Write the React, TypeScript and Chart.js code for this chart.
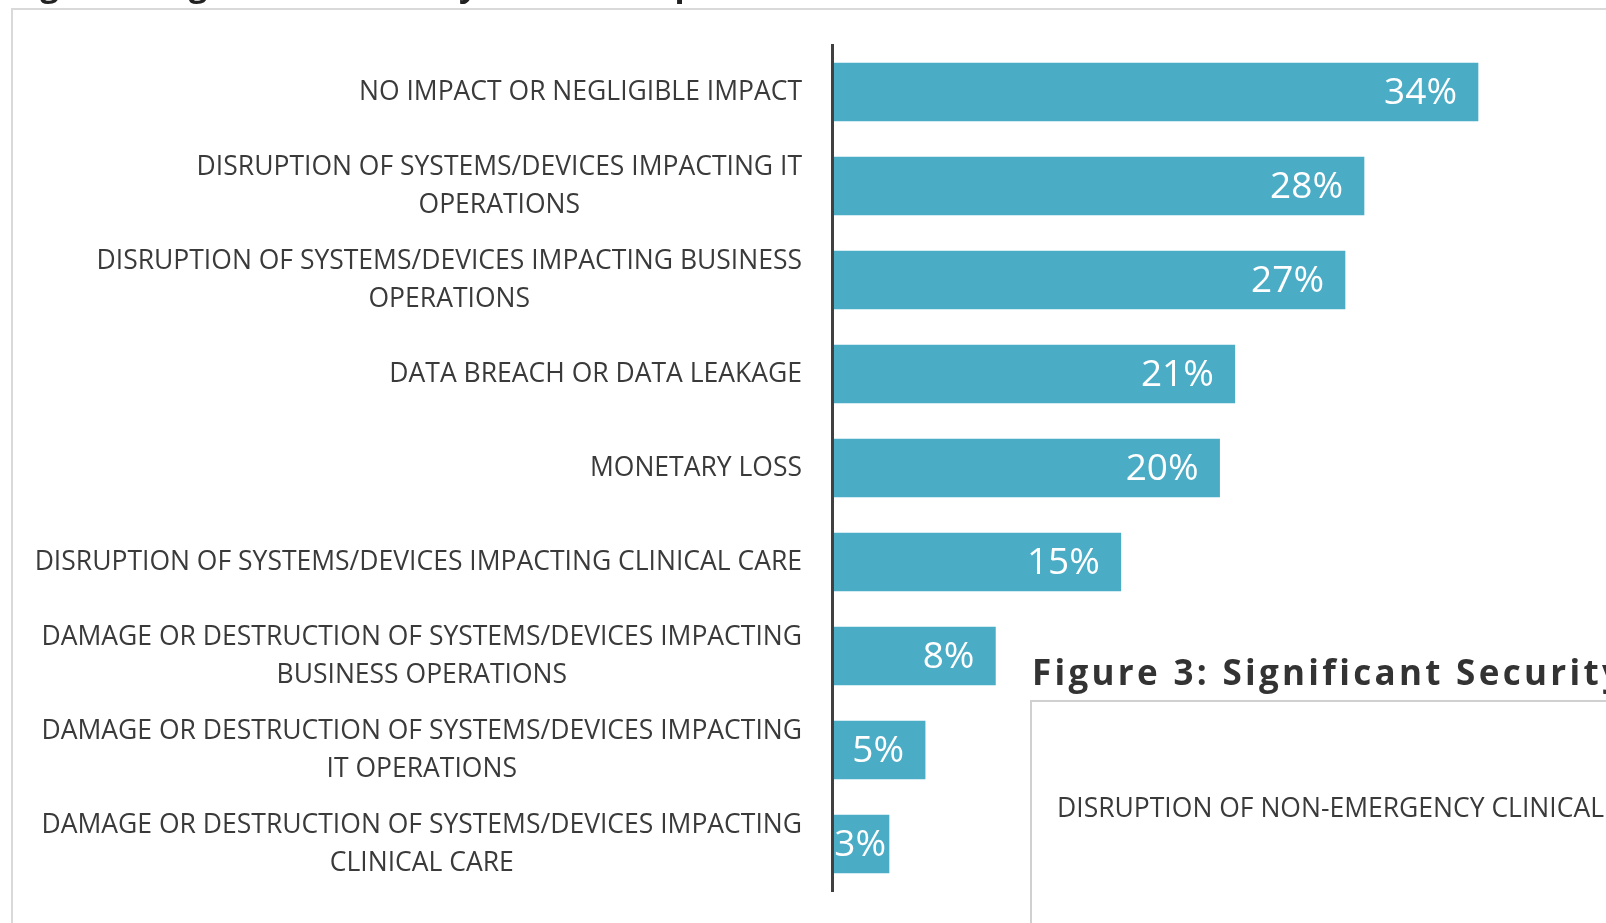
import React, { useEffect, useRef } from "react";
import { Chart, registerables } from "chart.js";

Chart.register(...registerables);

const categories: string[][] = [
  ["NO IMPACT OR NEGLIGIBLE IMPACT"],
  ["DISRUPTION OF SYSTEMS/DEVICES IMPACTING IT", "OPERATIONS"],
  ["DISRUPTION OF SYSTEMS/DEVICES IMPACTING BUSINESS", "OPERATIONS"],
  ["DATA BREACH OR DATA LEAKAGE"],
  ["MONETARY LOSS"],
  ["DISRUPTION OF SYSTEMS/DEVICES IMPACTING CLINICAL CARE"],
  ["DAMAGE OR DESTRUCTION OF SYSTEMS/DEVICES IMPACTING", "BUSINESS OPERATIONS"],
  ["DAMAGE OR DESTRUCTION OF SYSTEMS/DEVICES IMPACTING", "IT OPERATIONS"],
  ["DAMAGE OR DESTRUCTION OF SYSTEMS/DEVICES IMPACTING", "CLINICAL CARE"],
];
const values: number[] = [34, 28, 27, 21.2, 20.4, 15.2, 8.6, 4.9, 3];
const valueLabels: string[] = ["34%", "28%", "27%", "21%", "20%", "15%", "8%", "5%", "3%"];

const topTitle = "Figure 2: Significant Security Incident Impact";
const nextTitle = "Figure 3: Significant Security Incident Impact";
const nextCategory = "DISRUPTION OF NON-EMERGENCY CLINICAL CARE";

const BAR_COLOR = "#4BACC6";
const TEXT_COLOR = "#3a3a3a";
const LABEL_FONT = "26.5px 'Open Sans', sans-serif";
const VALUE_FONT = "37px 'Open Sans', sans-serif";
const TOP_TITLE_FONT = "bold 33px 'Open Sans', sans-serif";
const TITLE_FONT = "bold 35px 'Open Sans', sans-serif";

const pagePlugin = {
  id: "pageDecor",
  beforeDraw(chart: any) {
    const ctx = chart.ctx as CanvasRenderingContext2D;
    ctx.save();
    ctx.fillStyle = "#ffffff";
    ctx.fillRect(0, 0, chart.width, chart.height);
    ctx.font = TOP_TITLE_FONT;
    ctx.fillStyle = "#222222";
    ctx.textAlign = "left";
    ctx.textBaseline = "alphabetic";
    ctx.fillText(topTitle, 12, -4);
    ctx.strokeStyle = "#d9d9d9";
    ctx.lineWidth = 2;
    ctx.beginPath();
    ctx.moveTo(12, chart.height + 2);
    ctx.lineTo(12, 9);
    ctx.lineTo(chart.width + 2, 9);
    ctx.stroke();
    ctx.restore();
  },
  afterDraw(chart: any) {
    const ctx = chart.ctx as CanvasRenderingContext2D;
    ctx.save();
    ctx.font = TITLE_FONT;
    (ctx as any).letterSpacing = "3.3px";
    ctx.fillStyle = "#333333";
    ctx.textAlign = "left";
    ctx.textBaseline = "alphabetic";
    ctx.fillText(nextTitle, 1032, 685);
    (ctx as any).letterSpacing = "0px";
    ctx.strokeStyle = "#d0d0d0";
    ctx.lineWidth = 2;
    ctx.beginPath();
    ctx.moveTo(1031, chart.height + 2);
    ctx.lineTo(1031, 701);
    ctx.lineTo(chart.width + 2, 701);
    ctx.stroke();
    ctx.font = LABEL_FONT;
    ctx.fillStyle = TEXT_COLOR;
    ctx.textBaseline = "middle";
    ctx.fillText(nextCategory, 1057, 809);
    ctx.restore();
  },
};

const categoryLabelPlugin = {
  id: "categoryLabels",
  afterDraw(chart: any) {
    const ctx = chart.ctx as CanvasRenderingContext2D;
    const yScale = chart.scales.y;
    const rightEdge = 802;
    const lineH = 38;
    ctx.save();
    ctx.font = LABEL_FONT;
    ctx.fillStyle = TEXT_COLOR;
    ctx.textAlign = "center";
    ctx.textBaseline = "middle";
    categories.forEach((lines, i) => {
      const y = yScale.getPixelForValue(i);
      const maxW = Math.max(...lines.map((l) => ctx.measureText(l).width));
      const cx = rightEdge - maxW / 2;
      lines.forEach((l, j) => {
        ctx.fillText(l, cx, y + (j - (lines.length - 1) / 2) * lineH);
      });
    });
    ctx.restore();
  },
};

const valueLabelPlugin = {
  id: "valueLabels",
  afterDatasetsDraw(chart: any) {
    const ctx = chart.ctx as CanvasRenderingContext2D;
    const meta = chart.getDatasetMeta(0);
    const area = chart.chartArea;
    ctx.save();
    ctx.beginPath();
    ctx.rect(area.left, 0, chart.width - area.left, chart.height);
    ctx.clip();
    ctx.font = VALUE_FONT;
    ctx.fillStyle = "#ffffff";
    ctx.textAlign = "right";
    ctx.textBaseline = "middle";
    meta.data.forEach((el: any, i: number) => {
      const text = valueLabels[i];
      const w = ctx.measureText(text).width;
      const barW = el.x - el.base;
      const pad = w + 21 > barW ? 3 : 21;
      ctx.fillText(text, el.x - pad, el.y + 1);
    });
    ctx.restore();
  },
};

export default function App() {
  const ref = useRef<HTMLCanvasElement | null>(null);
  useEffect(() => {
    if (!ref.current) return;
    const chart = new Chart(ref.current, {
      type: "bar",
      data: {
        labels: categories,
        datasets: [
          {
            data: values,
            backgroundColor: BAR_COLOR,
            borderWidth: 0,
            barThickness: 58,
          },
        ],
      },
      options: {
        indexAxis: "y",
        responsive: false,
        animation: false,
        layout: { padding: { top: 45, bottom: 32, left: 0, right: 14 } },
        plugins: {
          legend: { display: false },
          tooltip: { enabled: false },
          title: { display: false },
        },
        scales: {
          x: {
            display: false,
            min: 0,
            max: 40,
          },
          y: {
            grid: { display: false },
            border: { display: true, color: "#404040", width: 3, z: 1 },
            ticks: { display: false },
            afterFit(scale: any) {
              scale.width = 832;
            },
          },
        },
      },
      plugins: [pagePlugin, categoryLabelPlugin, valueLabelPlugin],
    });
    return () => chart.destroy();
  }, []);
  return (
    <div style={{ position: "fixed", left: 0, top: 0, width: 1606, height: 923, background: "#fff" }}>
      <canvas ref={ref} width={1606} height={923} style={{ display: "block" }} />
    </div>
  );
}
